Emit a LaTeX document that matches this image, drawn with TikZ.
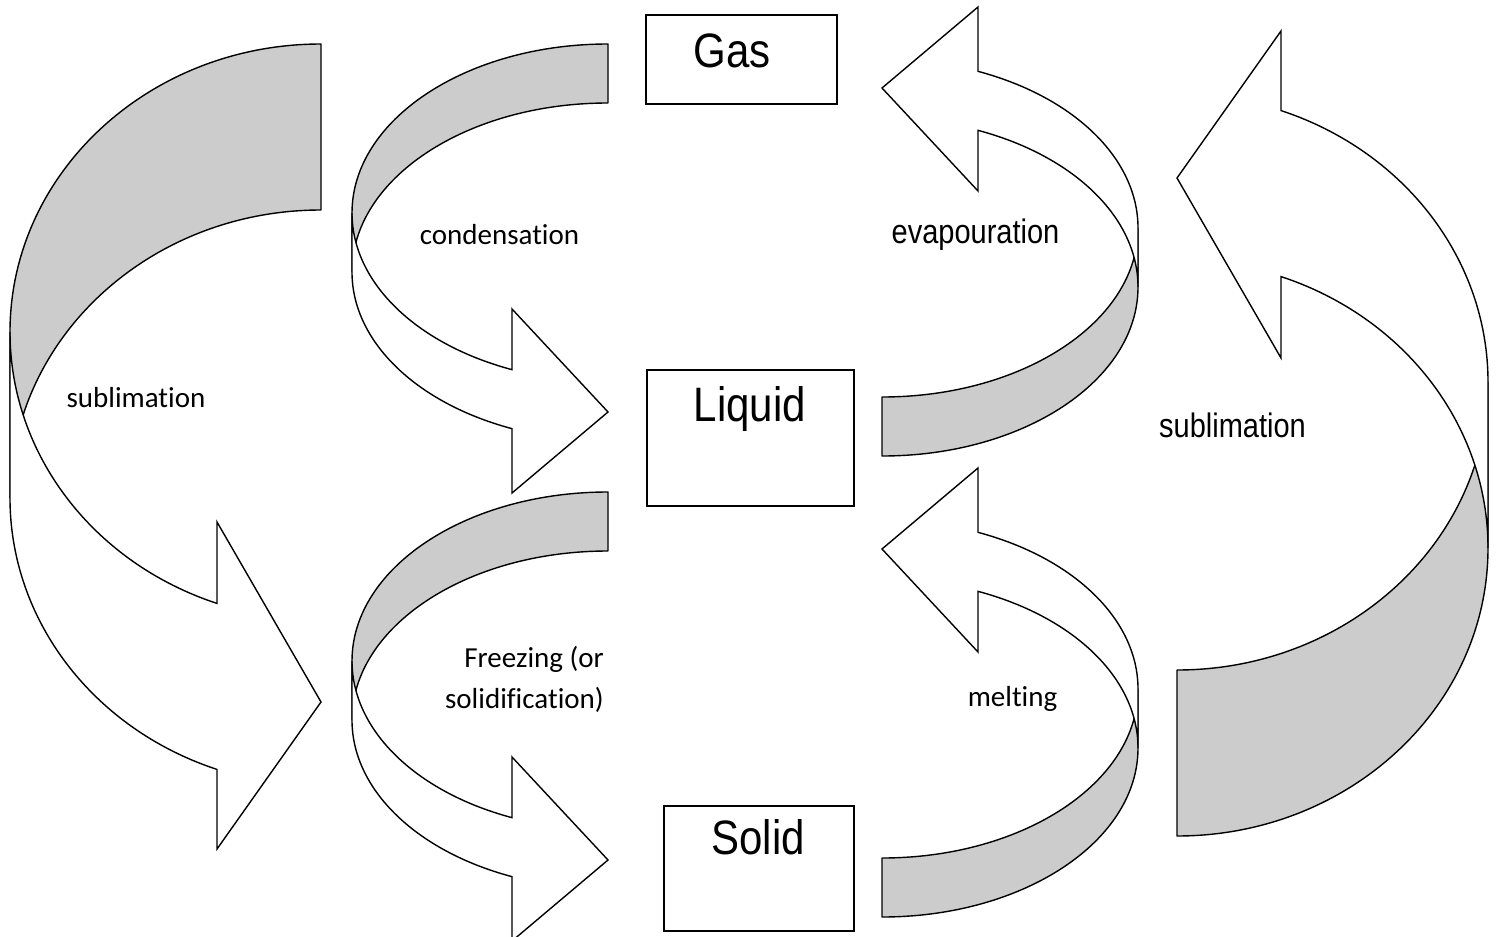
\documentclass[tikz,border=0pt]{standalone}
\usepackage{graphicx}
\usepackage{fontspec}
\setmainfont{Liberation Sans}
\newfontfamily\calibfont[Ligatures=NoCommon]{Carlito}
\newfontfamily\arialfont{Liberation Sans}
\definecolor{bandgray}{RGB}{204,204,204}
% #1 cx, #2 yc, #3 rx, #4 ry, #5 band thickness, #6 notch x, #7 notch top y, #8 notch bottom y, #9 tip y
\newcommand{\ribbonarrow}[9]{%
  \pgfmathsetmacro{\rbth}{180-acos((#1-#6)/#3)}%
  \pgfmathsetmacro{\rbyl}{#2+#5+#4*sin(\rbth)}%
  \filldraw[ribbonback] (#1,#2-#4) arc[start angle=270, end angle=180, x radius=#3, y radius=#4]
    -- ++(0,#5) arc[start angle=180, end angle=270, x radius=#3, y radius=#4] -- cycle;
  \filldraw[ribbonfront] (#1-#3,#2) arc[start angle=180, end angle=\rbth, x radius=#3, y radius=#4]
    -- (#6,#7) -- (#1,#9) -- (#6,#8) -- (#6,\rbyl)
    arc[start angle=\rbth, end angle=180, x radius=#3, y radius=#4] -- cycle;
}
\tikzset{
  ribbonback/.style={fill=bandgray, draw=black, line width=1.4pt, line join=round},
  ribbonfront/.style={fill=white, draw=black, line width=1.4pt, line join=miter},
  statebox/.style={draw=black, fill=white, line width=1.6pt, inner sep=0pt, anchor=north west},
  bigtxt/.style={font=\arialfont\fontsize{42}{48}\selectfont, inner sep=0pt, anchor=base},
  artxt/.style={font=\arialfont\fontsize{29}{34}\selectfont, inner sep=0pt, anchor=base},
  cbtxt/.style={font=\calibfont\fontsize{29}{34}\selectfont, inner sep=0pt, anchor=base},
}
\begin{document}
\begin{tikzpicture}[x=1pt, y=-1pt]
\useasboundingbox[fill=white] (0,0) rectangle (1497,937);

% left big sublimation arrow
\ribbonarrow{321}{332}{311}{288}{166}{217}{522}{849}{702}
% right big sublimation arrow
\begin{scope}[rotate around={180:(749,440)}]
\ribbonarrow{321}{332}{311}{288}{166}{217}{522}{849}{702}
\end{scope}
% condensation
\ribbonarrow{608}{213}{256}{169}{59}{512}{309}{493}{412}
% freezing
\ribbonarrow{608}{661}{256}{169}{59}{512}{757}{941}{860}
% evapouration
\begin{scope}[rotate around={180:(745,250)}]
\ribbonarrow{608}{213}{256}{169}{59}{512}{309}{493}{412}
\end{scope}
% melting
\begin{scope}[rotate around={180:(745,480.5)}]
\ribbonarrow{608}{213}{256}{169}{59}{512}{309}{493}{412}
\end{scope}

% state boxes
\node[statebox, minimum width=191pt, minimum height=89pt] (gas) at (645,14) {};
\node[statebox, minimum width=207pt, minimum height=136pt] (liquid) at (646,369) {};
\node[statebox, minimum width=190pt, minimum height=125pt] (solid) at (663,805) {};
\node[bigtxt] (gaslbl) at (732,67) {\scalebox{1}[1.15]{Gas}};
\node[bigtxt] (liquidlbl) at (750,421) {\scalebox{1}[1.15]{Liquid}};
\node[bigtxt] (solidlbl) at (758,854) {\scalebox{1}[1.15]{Solid}};

% process labels
\node[cbtxt] (condlbl) at (499.5,244) {condensation};
\node[artxt] (evaplbl) at (975.5,243) {\scalebox{1}[1.17]{evapouration}};
\node[cbtxt] (sublleft) at (136,407) {sublimation};
\node[artxt] (sublright) at (1232.5,437) {\scalebox{1}[1.17]{sublimation}};
\node[cbtxt, anchor=base east] (freezelbl1) at (604,667) {Freezing (or};
\node[cbtxt, anchor=base east] (freezelbl2) at (604,708) {solidification)};
\node[cbtxt] (meltlbl) at (1012.5,706) {melting};
\end{tikzpicture}
\end{document}
